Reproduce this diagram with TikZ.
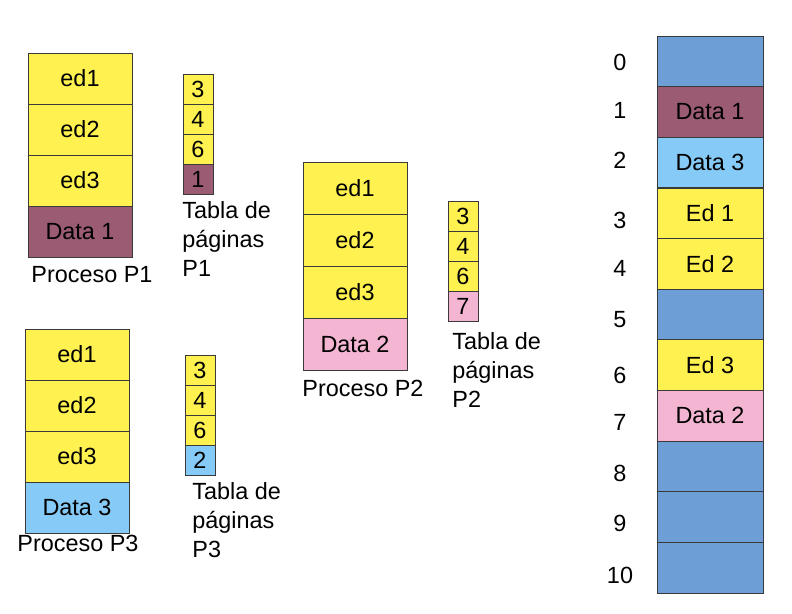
\documentclass[tikz,border=0pt]{standalone}
\usepackage{fontspec}
\setmainfont{Liberation Sans}
\usetikzlibrary{positioning}
\definecolor{segyellow}{HTML}{FFF250}
\definecolor{dataone}{HTML}{9A5B73}
\definecolor{datatwo}{HTML}{F3B5D1}
\definecolor{datathree}{HTML}{86CAF7}
\definecolor{freeblue}{HTML}{6E9ED6}
\definecolor{edgegray}{HTML}{3A3A3A}
\tikzset{
	% ------- every something
	every node/.style={
		font=\fontsize{23.5}{29}\selectfont,
	},
	every path/.style={
		line width=0.8bp,
	},
	% ------- custom
	segment/.style={
		draw=edgegray,
		fill=segyellow,
		minimum width=104bp,
		minimum height=51bp,
		inner sep=0pt,
		outer sep=0pt,
	},
	pageentry/.style={
		draw=edgegray,
		fill=segyellow,
		minimum width=30bp,
		minimum height=30bp,
		inner sep=0pt,
		outer sep=0pt,
	},
	frame/.style={
		draw=edgegray,
		fill=freeblue,
		minimum width=106bp,
		minimum height=50.6bp,
		inner sep=0pt,
		outer sep=0pt,
	},
	caption/.style={
		anchor=base west,
		inner sep=0pt,
	},
	tablecaption/.style={
		anchor=north west,
		align=left,
		inner sep=0pt,
	},
}

\begin{document}
\begin{tikzpicture}[x=1bp, y=-1bp]

% bounding box %{{{1

	\useasboundingbox (0,0) rectangle (792,614);

% coordinates %{{{1

	\coordinate (P1) at (28,53);
	\coordinate (T1) at (183,74);
	\coordinate (P2) at (303,162);
	\coordinate (T2) at (448,201);
	\coordinate (P3) at (25,329);
	\coordinate (T3) at (185,355);

% process P1 %{{{1

	\node[segment, anchor=north west] (p1ed1) at (P1) {ed1};
	\node[segment, below=0pt of p1ed1] (p1ed2) {ed2};
	\node[segment, below=0pt of p1ed2] (p1ed3) {ed3};
	\node[segment, below=0pt of p1ed3, fill=dataone] (p1data) {Data 1};
	\node[caption] (p1name) at (31,282) {Proceso P1};

	\node[pageentry, anchor=north west] (t1a) at (T1) {3};
	\node[pageentry, below=0pt of t1a] (t1b) {4};
	\node[pageentry, below=0pt of t1b] (t1c) {6};
	\node[pageentry, below=0pt of t1c, fill=dataone] (t1d) {1};
	\node[tablecaption] (t1name) at (182,201.5) {Tabla de\\páginas\\P1};

% process P2 %{{{1

	\node[segment, anchor=north west, minimum height=52bp] (p2ed1) at (P2) {ed1};
	\node[segment, below=0pt of p2ed1, minimum height=52bp] (p2ed2) {ed2};
	\node[segment, below=0pt of p2ed2, minimum height=52bp] (p2ed3) {ed3};
	\node[segment, below=0pt of p2ed3, minimum height=52bp, fill=datatwo] (p2data) {Data 2};
	\node[caption] (p2name) at (302,396) {Proceso P2};

	\node[pageentry, anchor=north west] (t2a) at (T2) {3};
	\node[pageentry, below=0pt of t2a] (t2b) {4};
	\node[pageentry, below=0pt of t2b] (t2c) {6};
	\node[pageentry, below=0pt of t2c, fill=datatwo] (t2d) {7};
	\node[tablecaption] (t2name) at (452,332.5) {Tabla de\\páginas\\P2};

% process P3 %{{{1

	\node[segment, anchor=north west] (p3ed1) at (P3) {ed1};
	\node[segment, below=0pt of p3ed1] (p3ed2) {ed2};
	\node[segment, below=0pt of p3ed2] (p3ed3) {ed3};
	\node[segment, below=0pt of p3ed3, fill=datathree] (p3data) {Data 3};
	\node[caption] (p3name) at (17,551) {Proceso P3};

	\node[pageentry, anchor=north west] (t3a) at (T3) {3};
	\node[pageentry, below=0pt of t3a] (t3b) {4};
	\node[pageentry, below=0pt of t3b] (t3c) {6};
	\node[pageentry, below=0pt of t3c, fill=datathree] (t3d) {2};
	\node[tablecaption] (t3name) at (192,482.5) {Tabla de\\páginas\\P3};

% physical memory frames %{{{1

	\foreach \i/\col/\txt in {0/freeblue/, 1/dataone/Data 1, 2/datathree/Data 3,
		3/segyellow/Ed 1, 4/segyellow/Ed 2, 5/freeblue/, 6/segyellow/Ed 3,
		7/datatwo/Data 2, 8/freeblue/, 9/freeblue/, 10/freeblue/}
	{
		\node[frame, anchor=north west, fill=\col] (m\i) at (657,{36+50.64*\i}) {\txt};
	}

% frame numbers %{{{1

	\foreach \i/\y in {0/62, 1/110, 2/160, 3/220, 4/268, 5/320,
		6/375, 7/422, 8/473, 9/523, 10/575}
	{
		\node (n\i) at (620,\y) {\i};
	}

% closing %{{{1

\end{tikzpicture}
\end{document}
